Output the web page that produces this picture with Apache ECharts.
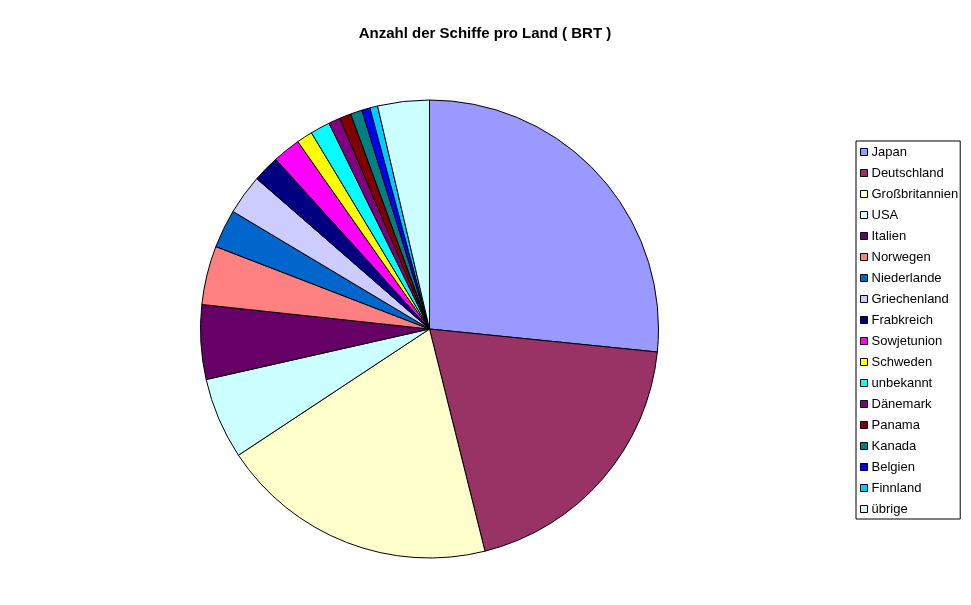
<!DOCTYPE html>
<html>
<head>
<meta charset="utf-8">
<script src="https://cdn.jsdelivr.net/npm/echarts@6/dist/echarts.min.js"></script>
<style>
html,body{margin:0;padding:0;background:#fff;}
#chart{width:971px;height:605px;}
</style>
</head>
<body>
<div id="chart"></div>
<script>
var categories = ["Japan","Deutschland","Großbritannien","USA","Italien","Norwegen","Niederlande","Griechenland","Frabkreich","Sowjetunion","Schweden","unbekannt","Dänemark","Panama","Kanada","Belgien","Finnland","übrige"];
var values = [26.6,19.5,19.6,5.75,5.25,4.15,2.72,2.82,1.89,1.96,1.13,1.39,0.83,0.81,0.82,0.58,0.55,3.64];
var colors = ["#9999FF","#993366","#FFFFCC","#CCFFFF","#660066","#FF8080","#0066CC","#CCCCFF","#000080","#FF00FF","#FFFF00","#00FFFF","#800080","#800000","#008080","#0000FF","#00CCFF","#CCFFFF"];

var chart = echarts.init(document.getElementById('chart'), null, {renderer:'canvas'});
var data = categories.map(function(c,i){ return {name:c, value:values[i], itemStyle:{color:colors[i]}}; });
chart.setOption({
  animation:false,
  backgroundColor:'#ffffff',
  title:{
    text:'Anzahl der Schiffe pro Land ( BRT )',
    left:480, top:21, textAlign:'center',
    textStyle:{fontFamily:'Liberation Sans, Arial, sans-serif', fontSize:15, fontWeight:'bold', color:'#000'}
  },
  legend:{
    orient:'vertical',
    left:856, top:141,
    padding:[4,2,3,4],
    backgroundColor:'#fff',
    borderColor:'#000', borderWidth:1,
    itemWidth:7, itemHeight:7, itemGap:7,
    icon:'rect',
    selectedMode:false,
    itemStyle:{borderColor:'#000', borderWidth:1},
    textStyle:{fontFamily:'Liberation Sans, Arial, sans-serif', fontSize:13, color:'#000', lineHeight:14, padding:[0,0,0,-1]},
    data:categories
  },
  series:[{
    type:'pie',
    center:[429.5,329],
    radius:229,
    startAngle:90,
    clockwise:true,
    avoidLabelOverlap:false,
    label:{show:false},
    labelLine:{show:false},
    emphasis:{disabled:true},
    itemStyle:{borderColor:'#000', borderWidth:1},
    data:data
  }]
});
</script>
</body>
</html>
